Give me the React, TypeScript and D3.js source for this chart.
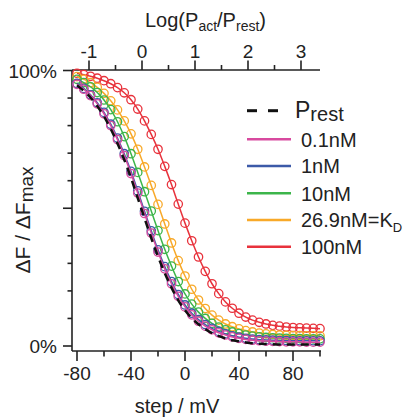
import React from "react";
import * as d3 from "d3";

const voltages = [-80,-75,-70,-65,-60,-55,-50,-45,-40,-35,-30,-25,-20,-15,-10,-5,0,5,10,15,20,25,30,35,40,45,50,55,60,65,70,75,80,85,90,95,100];

const prest = [94.6,92.6,90.2,87.1,83.3,78.8,73.5,67.6,61.0,53.7,46.4,39.2,32.5,26.5,21.2,16.6,13.0,10.1,7.9,6.1,4.7,3.6,2.8,2.1,1.7,1.3,1.0,0.85,0.7,0.6,0.55,0.5,0.5,0.5,0.5,0.5,0.5];
const nM01 = [95.0,93.2,90.9,87.9,84.3,80.0,74.9,69.1,62.6,55.5,48.1,41.0,34.1,28.0,22.6,18.0,14.2,11.3,9.0,7.2,5.9,4.8,4.0,3.3,2.8,2.4,2.1,1.9,1.8,1.7,1.6,1.5,1.5,1.5,1.4,1.4,1.4];
const nM1 = [95.3,93.5,91.2,88.3,84.8,80.5,75.5,69.8,63.4,56.3,48.9,41.8,34.9,28.8,23.4,18.7,14.9,11.9,9.6,7.8,6.4,5.3,4.4,3.7,3.2,2.8,2.5,2.3,2.2,2.1,2.0,2.0,1.9,1.9,1.9,1.9,1.9];
const nM10 = [96.8,95.6,94.1,92.0,89.3,85.8,81.4,76.0,69.8,63.0,56.0,49.0,41.9,35.1,29.0,23.4,18.9,15.2,12.3,10.0,8.2,6.9,5.9,5.1,4.5,4.0,3.6,3.3,3.1,3.0,2.9,2.8,2.7,2.7,2.6,2.6,2.6];
const nMKd = [97.8,96.8,95.6,93.9,91.7,89.0,85.7,81.7,77.0,71.4,65.0,58.3,51.4,44.3,37.4,31.0,25.4,20.6,16.7,13.6,11.2,9.4,8.0,7.0,6.2,5.6,5.1,4.7,4.4,4.2,4.0,3.9,3.8,3.8,3.7,3.7,3.7];
const nM100 = [99.0,98.5,97.9,97.2,96.3,95.2,93.8,91.9,89.4,86.0,81.7,76.8,71.4,65.2,58.6,51.5,44.6,38.2,32.3,27.1,22.6,19.0,16.0,13.7,11.9,10.5,9.4,8.6,8.0,7.5,7.2,6.9,6.7,6.6,6.5,6.4,6.3];

const seriesNames = ["0.1nM", "1nM", "10nM", "26.9nM", "100nM"];
const seriesColors = ["#d84a9f", "#3c5aa8", "#3cb54a", "#f8a929", "#e8323c"];
const seriesValues = [nM01, nM1, nM10, nMKd, nM100];

const xTicksMajor = [-80, -40, 0, 40, 80];
const xTicksMinor = [-60, -20, 20, 60, 100];
const yTicksMajor = [0, 50, 100];
const yTicksMinor = [10, 20, 30, 40, 60, 70, 80, 90];
const topTicksMajor = [-1, 0, 1, 2, 3];
const topTicksMinor = [-0.5, 0.5, 1.5, 2.5];

const FONT = "'Liberation Sans', Arial, sans-serif";

export default function App() {
  const x = d3.scaleLinear().domain([-80, 100]).range([77, 320]);
  const y = d3.scaleLinear().domain([0, 100]).range([346, 70.5]);
  const xTop = d3.scaleLinear().domain([0, 1]).range([142, 195]);
  const axL = 72, axR = 320, axT = 70, axB = 351;

  const line = d3
    .line<number>()
    .x((_, i) => x(voltages[i]))
    .y((d) => y(d))
    .curve(d3.curveMonotoneX);

  const legendY = [139.3, 166, 193.3, 220, 246.7];

  return (
    <svg width={409} height={419} style={{ position: "absolute", left: 0, top: 0 }} fontFamily={FONT}>
      <rect width={409} height={419} fill="#fff" />
      {/* axes */}
      <g stroke="#222" strokeWidth={1.6} fill="none">
        <line x1={axL} x2={axL} y1={axT} y2={axB} />
        <line x1={axL} x2={axR + 1} y1={axB} y2={axB} />
        <line x1={axL} x2={axR} y1={axT} y2={axT} />
        {xTicksMajor.map((t) => (
          <line key={"xM" + t} x1={x(t)} x2={x(t)} y1={axB} y2={axB + 10} />
        ))}
        {xTicksMinor.map((t) => (
          <line key={"xm" + t} x1={x(t)} x2={x(t)} y1={axB} y2={axB + 5.5} />
        ))}
        {yTicksMajor.map((t) => (
          <line key={"yM" + t} x1={axL} x2={axL - 9} y1={y(t)} y2={y(t)} />
        ))}
        {yTicksMinor.map((t) => (
          <line key={"ym" + t} x1={axL} x2={axL - 4.5} y1={y(t)} y2={y(t)} />
        ))}
        {topTicksMajor.map((t) => (
          <line key={"tM" + t} x1={xTop(t)} x2={xTop(t)} y1={axT} y2={axT - 9.5} />
        ))}
        {topTicksMinor.map((t) => (
          <line key={"tm" + t} x1={xTop(t)} x2={xTop(t)} y1={axT} y2={axT - 5} />
        ))}
      </g>
      <g fontSize={19} fill="#222">
        {xTicksMajor.map((t) => (
          <text key={"xl" + t} x={x(t)} y={380} textAnchor="middle">
            {t}
          </text>
        ))}
        {topTicksMajor.map((t) => (
          <text key={"tl" + t} x={xTop(t)} y={58} textAnchor="middle">
            {t}
          </text>
        ))}
        <text x={57} y={y(100) + 7} textAnchor="end">100%</text>
        <text x={57} y={y(0) + 7} textAnchor="end">0%</text>
      </g>
      {/* axis titles */}
      <text x={145} y={27} fontSize={20} fill="#222">
        Log(P<tspan fontSize={14} dy={4}>act</tspan>
        <tspan dy={-4}>/P</tspan>
        <tspan fontSize={14} dy={4}>rest</tspan>
        <tspan dy={-4}>)</tspan>
      </text>
      <text x={177} y={413} fontSize={20} textAnchor="middle" fill="#222">
        step / mV
      </text>
      <text transform="translate(30,220) rotate(-90)" fontSize={21} textAnchor="middle" fill="#222">
        ΔF / ΔF<tspan fontSize={19} dy={3}>max</tspan>
      </text>

      {/* series */}
      {[4, 3, 2, 1, 0].map((k) => (
        <g key={"s" + k}>
          <path d={line(seriesValues[k]) || ""} fill="none" stroke={seriesColors[k]} strokeWidth={1.5} />
          {seriesValues[k].map((v, i) => (
            <circle
              key={i}
              cx={x(voltages[i])}
              cy={y(v)}
              r={4.2}
              fill="none"
              stroke={seriesColors[k]}
              strokeWidth={1.3}
            />
          ))}
        </g>
      ))}
      <path d={line(prest) || ""} fill="none" stroke="#111" strokeWidth={2.5} strokeDasharray="8,6" />

      {/* legend */}
      <g>
        <line x1={247} x2={257} y1={110.7} y2={110.7} stroke="#111" strokeWidth={3} />
        <line x1={268} x2={278} y1={110.7} y2={110.7} stroke="#111" strokeWidth={3} />
        <text x={295} y={118.3} fontSize={23} fill="#222">
          P<tspan fontSize={20} dy={3}>rest</tspan>
        </text>
        {seriesNames.map((n, k) => (
          <g key={"lg" + k}>
            <line x1={247} x2={291} y1={legendY[k]} y2={legendY[k]} stroke={seriesColors[k]} strokeWidth={2.5} />
            <text x={301} y={legendY[k] + 7.4} fontSize={20} fill="#222">
              {k === 3 ? (
                <>
                  {n}=K<tspan fontSize={13} dy={5}>D</tspan>
                </>
              ) : (
                n
              )}
            </text>
          </g>
        ))}
      </g>
    </svg>
  );
}
